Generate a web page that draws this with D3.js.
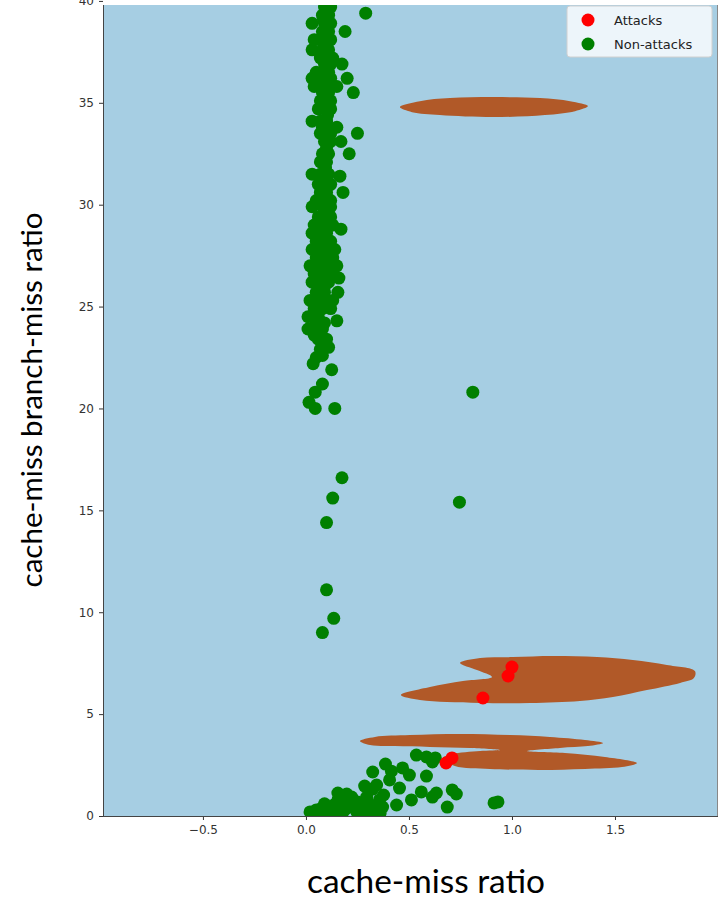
<!DOCTYPE html>
<html><head><meta charset="utf-8">
<script src="https://cdn.jsdelivr.net/npm/d3@7"></script>
<style>body{margin:0;background:#fff;} svg{display:block;}</style>
</head><body>
<svg id="chart" width="724" height="901"></svg>
<script>
// ---------- data ----------
const xTickValues = [-0.5, 0.0, 0.5, 1.0, 1.5];
const yTickValues = [0, 5, 10, 15, 20, 25, 30, 35, 40];
const xDomain = [-0.985, 2.0];
const yDomain = [0, 39.8];
const seriesNames = ["Attacks", "Non-attacks"];
const xTitle = "cache-miss ratio";
const yTitle = "cache-miss branch-miss ratio";

// points [cache-miss ratio, cache-miss branch-miss ratio]
const attackPoints = [
  [1.0, 7.31], [0.981, 6.87], [0.859, 5.79], [0.709, 2.85], [0.68, 2.6]
];
const nonAttackPoints = [
  [0.09,39.7],[0.12,39.7],[0.10,39.5],
  [0.08,39.3],[0.11,39.3],[0.29,39.4],[0.085,39.1],
  [0.03,38.9],[0.09,38.9],[0.12,38.9],[0.105,38.7],
  [0.08,38.5],[0.11,38.5],[0.19,38.5],[0.095,38.3],
  [0.04,38.1],[0.09,38.1],[0.12,38.1],[0.085,37.9],
  [0.03,37.6],[0.08,37.6],[0.11,37.6],[0.10,37.4],
  [0.07,37.2],[0.10,37.2],[0.13,37.2],[0.09,37.0],
  [0.09,36.9],[0.12,36.9],[0.175,36.9],[0.10,36.7],
  [0.05,36.5],[0.08,36.5],[0.11,36.5],
  [0.03,36.2],[0.08,36.2],[0.12,36.2],[0.20,36.2],[0.095,36.0],
  [0.04,35.8],[0.09,35.8],[0.12,35.8],[0.15,35.8],
  [0.08,35.5],[0.11,35.5],[0.23,35.5],[0.09,35.3],
  [0.07,35.1],[0.10,35.1],[0.12,35.1],[0.085,34.9],
  [0.06,34.7],[0.09,34.7],[0.12,34.7],[0.105,34.4],
  [0.03,34.1],[0.07,34.1],[0.10,34.1],[0.09,34.0],
  [0.08,33.8],[0.11,33.8],[0.15,33.8],
  [0.07,33.5],[0.12,33.5],[0.25,33.5],[0.095,33.3],
  [0.09,33.1],[0.12,33.1],[0.17,33.1],[0.10,32.8],
  [0.08,32.5],[0.11,32.5],[0.21,32.5],[0.085,32.3],
  [0.07,32.1],[0.10,32.1],[0.095,31.8],
  [0.03,31.5],[0.07,31.5],[0.11,31.5],[0.165,31.4],[0.085,31.2],
  [0.06,31.0],[0.09,31.0],[0.12,31.0],[0.095,30.8],
  [0.07,30.6],[0.10,30.6],[0.18,30.6],[0.10,30.4],
  [0.05,30.2],[0.08,30.2],[0.12,30.2],[0.07,30.0],
  [0.03,29.9],[0.09,29.9],[0.12,29.9],[0.085,29.6],
  [0.06,29.4],[0.10,29.4],[0.12,29.4],[0.10,29.2],
  [0.04,29.0],[0.08,29.0],[0.13,29.0],[0.065,28.8],
  [0.03,28.6],[0.10,28.6],[0.17,28.8],[0.08,28.4],
  [0.05,28.2],[0.09,28.2],[0.12,28.2],[0.07,28.0],
  [0.03,27.8],[0.07,27.8],[0.11,27.8],[0.14,27.8],[0.07,27.6],
  [0.05,27.4],[0.09,27.4],[0.13,27.4],[0.08,27.2],
  [0.02,27.0],[0.06,27.0],[0.10,27.0],[0.15,27.0],[0.085,26.8],
  [0.04,26.6],[0.08,26.6],[0.12,26.6],[0.16,26.4],[0.06,26.4],
  [0.03,26.2],[0.07,26.2],[0.11,26.2],[0.09,26.0],
  [0.05,25.7],[0.09,25.7],[0.155,25.7],[0.07,25.5],
  [0.02,25.3],[0.06,25.3],[0.10,25.3],[0.13,25.3],[0.08,25.1],
  [0.04,24.9],[0.08,24.9],[0.12,24.9],[0.06,24.7],
  [0.01,24.5],[0.06,24.5],[0.15,24.3],
  [0.05,24.2],[0.09,24.2],[0.07,24.0],
  [0.01,23.9],[0.08,23.9],[0.04,23.6],
  [0.06,23.4],[0.10,23.4],[0.09,23.2],
  [0.11,23.0],[0.07,22.9],
  [0.05,22.5],[0.08,22.6],
  [0.035,22.2],
  [0.125,21.9],
  [0.08,21.2],
  [0.045,20.8],
  [0.015,20.3],
  [0.045,20.0],[0.14,20.0],
  [0.81,20.8],
  [0.175,16.6],[0.13,15.6],[0.10,14.4],[0.745,15.4],
  [0.10,11.1],[0.135,9.7],[0.08,9.0],
  // bottom cluster
  [0.536,2.99],[0.585,2.9],[0.628,2.85],[0.614,2.65],
  [0.386,2.55],[0.324,2.16],[0.469,2.36],[0.415,2.2],
  [0.502,2.01],[0.406,1.77],[0.585,1.96],[0.343,1.52],
  [0.324,1.32],[0.454,1.37],[0.377,1.03],[0.285,1.47],
  [0.56,1.18],[0.633,1.13],[0.71,1.28],[0.73,1.08],
  [0.614,0.93],[0.686,0.44],[0.913,0.64],[0.932,0.69],
  [0.155,1.13],[0.198,1.08],[0.295,0.93],[0.357,0.79],
  [0.372,0.44],[0.44,0.54],[0.512,0.79],
  [0.02,0.2],[0.05,0.3],[0.077,0.39],[0.106,0.44],
  [0.135,0.54],[0.164,0.59],[0.193,0.64],[0.222,0.54],
  [0.251,0.69],[0.28,0.54],[0.31,0.49],[0.34,0.3],
  [0.068,0.2],[0.126,0.25],[0.184,0.25],[0.242,0.3],
  [0.29,0.25],[0.155,0.79],[0.222,0.93],
  [0.04,0.15],[0.10,0.15],[0.16,0.2],[0.20,0.4],[0.26,0.45],
  [0.32,0.2],[0.36,0.15],[0.12,0.35],[0.09,0.6],[0.20,0.75],
  [0.25,0.15],[0.30,0.7],[0.18,0.45],[0.14,0.15]
];

// decision regions (outlines in data coordinates)
const regionTop = [
  [0.456,34.79],[0.553,35.08],[0.699,35.23],[0.908,35.28],[1.136,35.23],
  [1.282,35.08],[1.369,34.84],[1.306,34.59],[1.160,34.40],[0.908,34.30],
  [0.650,34.40],[0.515,34.54]
];
const regionMid = [
  [0.461,5.94],[0.602,6.33],[0.762,6.62],[0.903,6.82],[0.830,7.16],
  [0.748,7.51],[0.845,7.75],[1.005,7.80],[1.199,7.85],[1.413,7.80],
  [1.587,7.65],[1.752,7.41],[1.888,7.11],[1.883,6.77],[1.816,6.53],
  [1.655,6.18],[1.490,5.84],[1.330,5.64],[1.087,5.54],[0.845,5.54],
  [0.684,5.59],[0.553,5.69]
];
const regionLow = [
  [0.262,3.68],[0.335,3.88],[0.505,3.97],[0.748,4.02],[0.990,3.97],
  [1.184,3.88],[1.354,3.73],[1.442,3.58],[1.369,3.43],[1.233,3.34],
  [1.073,3.19],[1.257,3.09],[1.451,2.90],[1.607,2.60],[1.534,2.40],
  [1.354,2.31],[1.136,2.26],[0.893,2.31],[0.723,2.45],[0.665,2.85],
  [0.709,3.04],[0.845,3.19],[0.942,3.24],[0.796,3.34],[0.602,3.39],
  [0.432,3.43],[0.311,3.48]
];
const regions = [regionTop, regionMid, regionLow];

// ---------- drawing ----------
const svg = d3.select("#chart");
const plot = {left: 103, right: 718, top: 5, bottom: 816};
const x = d3.scaleLinear().domain(xDomain).range([plot.left, plot.right]);
const y = d3.scaleLinear().domain(yDomain).range([plot.bottom, plot.top]);

const bgColor = "#a6cee3", regionColor = "#b15928";
const colors = {Attacks: "#ff0000", "Non-attacks": "#008000"};

svg.append("rect").attr("width", 724).attr("height", 901).attr("fill", "#fff");

svg.append("defs").append("clipPath").attr("id", "clip")
  .append("rect").attr("x", plot.left).attr("y", plot.top)
  .attr("width", plot.right - plot.left).attr("height", plot.bottom - plot.top);

svg.append("rect").attr("x", plot.left).attr("y", plot.top)
  .attr("width", plot.right - plot.left).attr("height", plot.bottom - plot.top)
  .attr("fill", bgColor);

const g = svg.append("g").attr("clip-path", "url(#clip)");
const line = d3.line().x(d => x(d[0])).y(d => y(d[1])).curve(d3.curveCatmullRomClosed.alpha(0.5));
g.selectAll("path.region").data(regions).join("path")
  .attr("class", "region").attr("d", line).attr("fill", regionColor);

const R = 6.5;
g.selectAll("circle.non").data(nonAttackPoints).join("circle")
  .attr("class", "non").attr("cx", d => x(d[0])).attr("cy", d => y(d[1]))
  .attr("r", R).attr("fill", colors["Non-attacks"]);
g.selectAll("circle.att").data(attackPoints).join("circle")
  .attr("class", "att").attr("cx", d => x(d[0])).attr("cy", d => y(d[1]))
  .attr("r", R).attr("fill", colors["Attacks"]);

// axes
const fmtX = d3.format(".1f");
const xAxis = svg.append("g").attr("transform", `translate(0,${plot.bottom})`)
  .call(d3.axisBottom(x).tickValues(xTickValues).tickFormat(fmtX).tickSize(4).tickPadding(5));
const yAxis = svg.append("g").attr("transform", `translate(${plot.left},0)`)
  .call(d3.axisLeft(y).tickValues(yTickValues).tickFormat(d3.format("d")).tickSize(4).tickPadding(5));
[xAxis, yAxis].forEach(a => {
  a.select(".domain").remove();
  a.selectAll(".tick line").attr("stroke", "#333");
  a.selectAll(".tick text").attr("fill", "#333")
    .style("font-family", "DejaVu Sans").style("font-size", "12px");
});

// spines
const sp = svg.append("g").attr("fill", "none").attr("stroke", "#444").attr("stroke-width", 1);
sp.append("line").attr("x1", plot.left + 0.5).attr("x2", plot.left + 0.5).attr("y1", plot.top).attr("y2", plot.bottom);
sp.append("line").attr("x1", plot.right - 0.5).attr("x2", plot.right - 0.5).attr("y1", plot.top).attr("y2", plot.bottom).attr("stroke", "#888");
sp.append("line").attr("x1", plot.left).attr("x2", plot.right).attr("y1", plot.bottom + 0.5).attr("y2", plot.bottom + 0.5);

// legend
const leg = svg.append("g");
leg.append("rect").attr("x", 567).attr("y", 6).attr("width", 145).attr("height", 51)
  .attr("rx", 3).attr("fill", "rgba(255,255,255,0.8)").attr("stroke", "#d0d0d0");
seriesNames.forEach((name, i) => {
  const cy = 20 + i * 24;
  leg.append("circle").attr("cx", 588).attr("cy", cy).attr("r", 6.5).attr("fill", colors[name]);
  leg.append("text").attr("x", 614).attr("y", cy).attr("dy", "0.35em")
    .style("font-family", "DejaVu Sans").style("font-size", "13px").attr("fill", "#222").text(name);
});

// titles
function fit(sel, target) {
  const w = sel.node().getComputedTextLength();
  const fs = parseFloat(sel.style("font-size"));
  sel.style("font-size", (fs * target / w) + "px");
}
const xt = svg.append("text").attr("x", 426).attr("y", 893).attr("text-anchor", "middle")
  .style("font-family", "Lato").style("font-size", "33px").attr("fill", "#000").text(xTitle);
fit(xt, 238);
const yt = svg.append("text").attr("transform", "translate(42,400) rotate(-90)").attr("text-anchor", "middle")
  .style("font-family", "Lato").style("font-size", "33px").attr("fill", "#000").text(yTitle);
fit(yt, 375);
</script>
</body></html>
